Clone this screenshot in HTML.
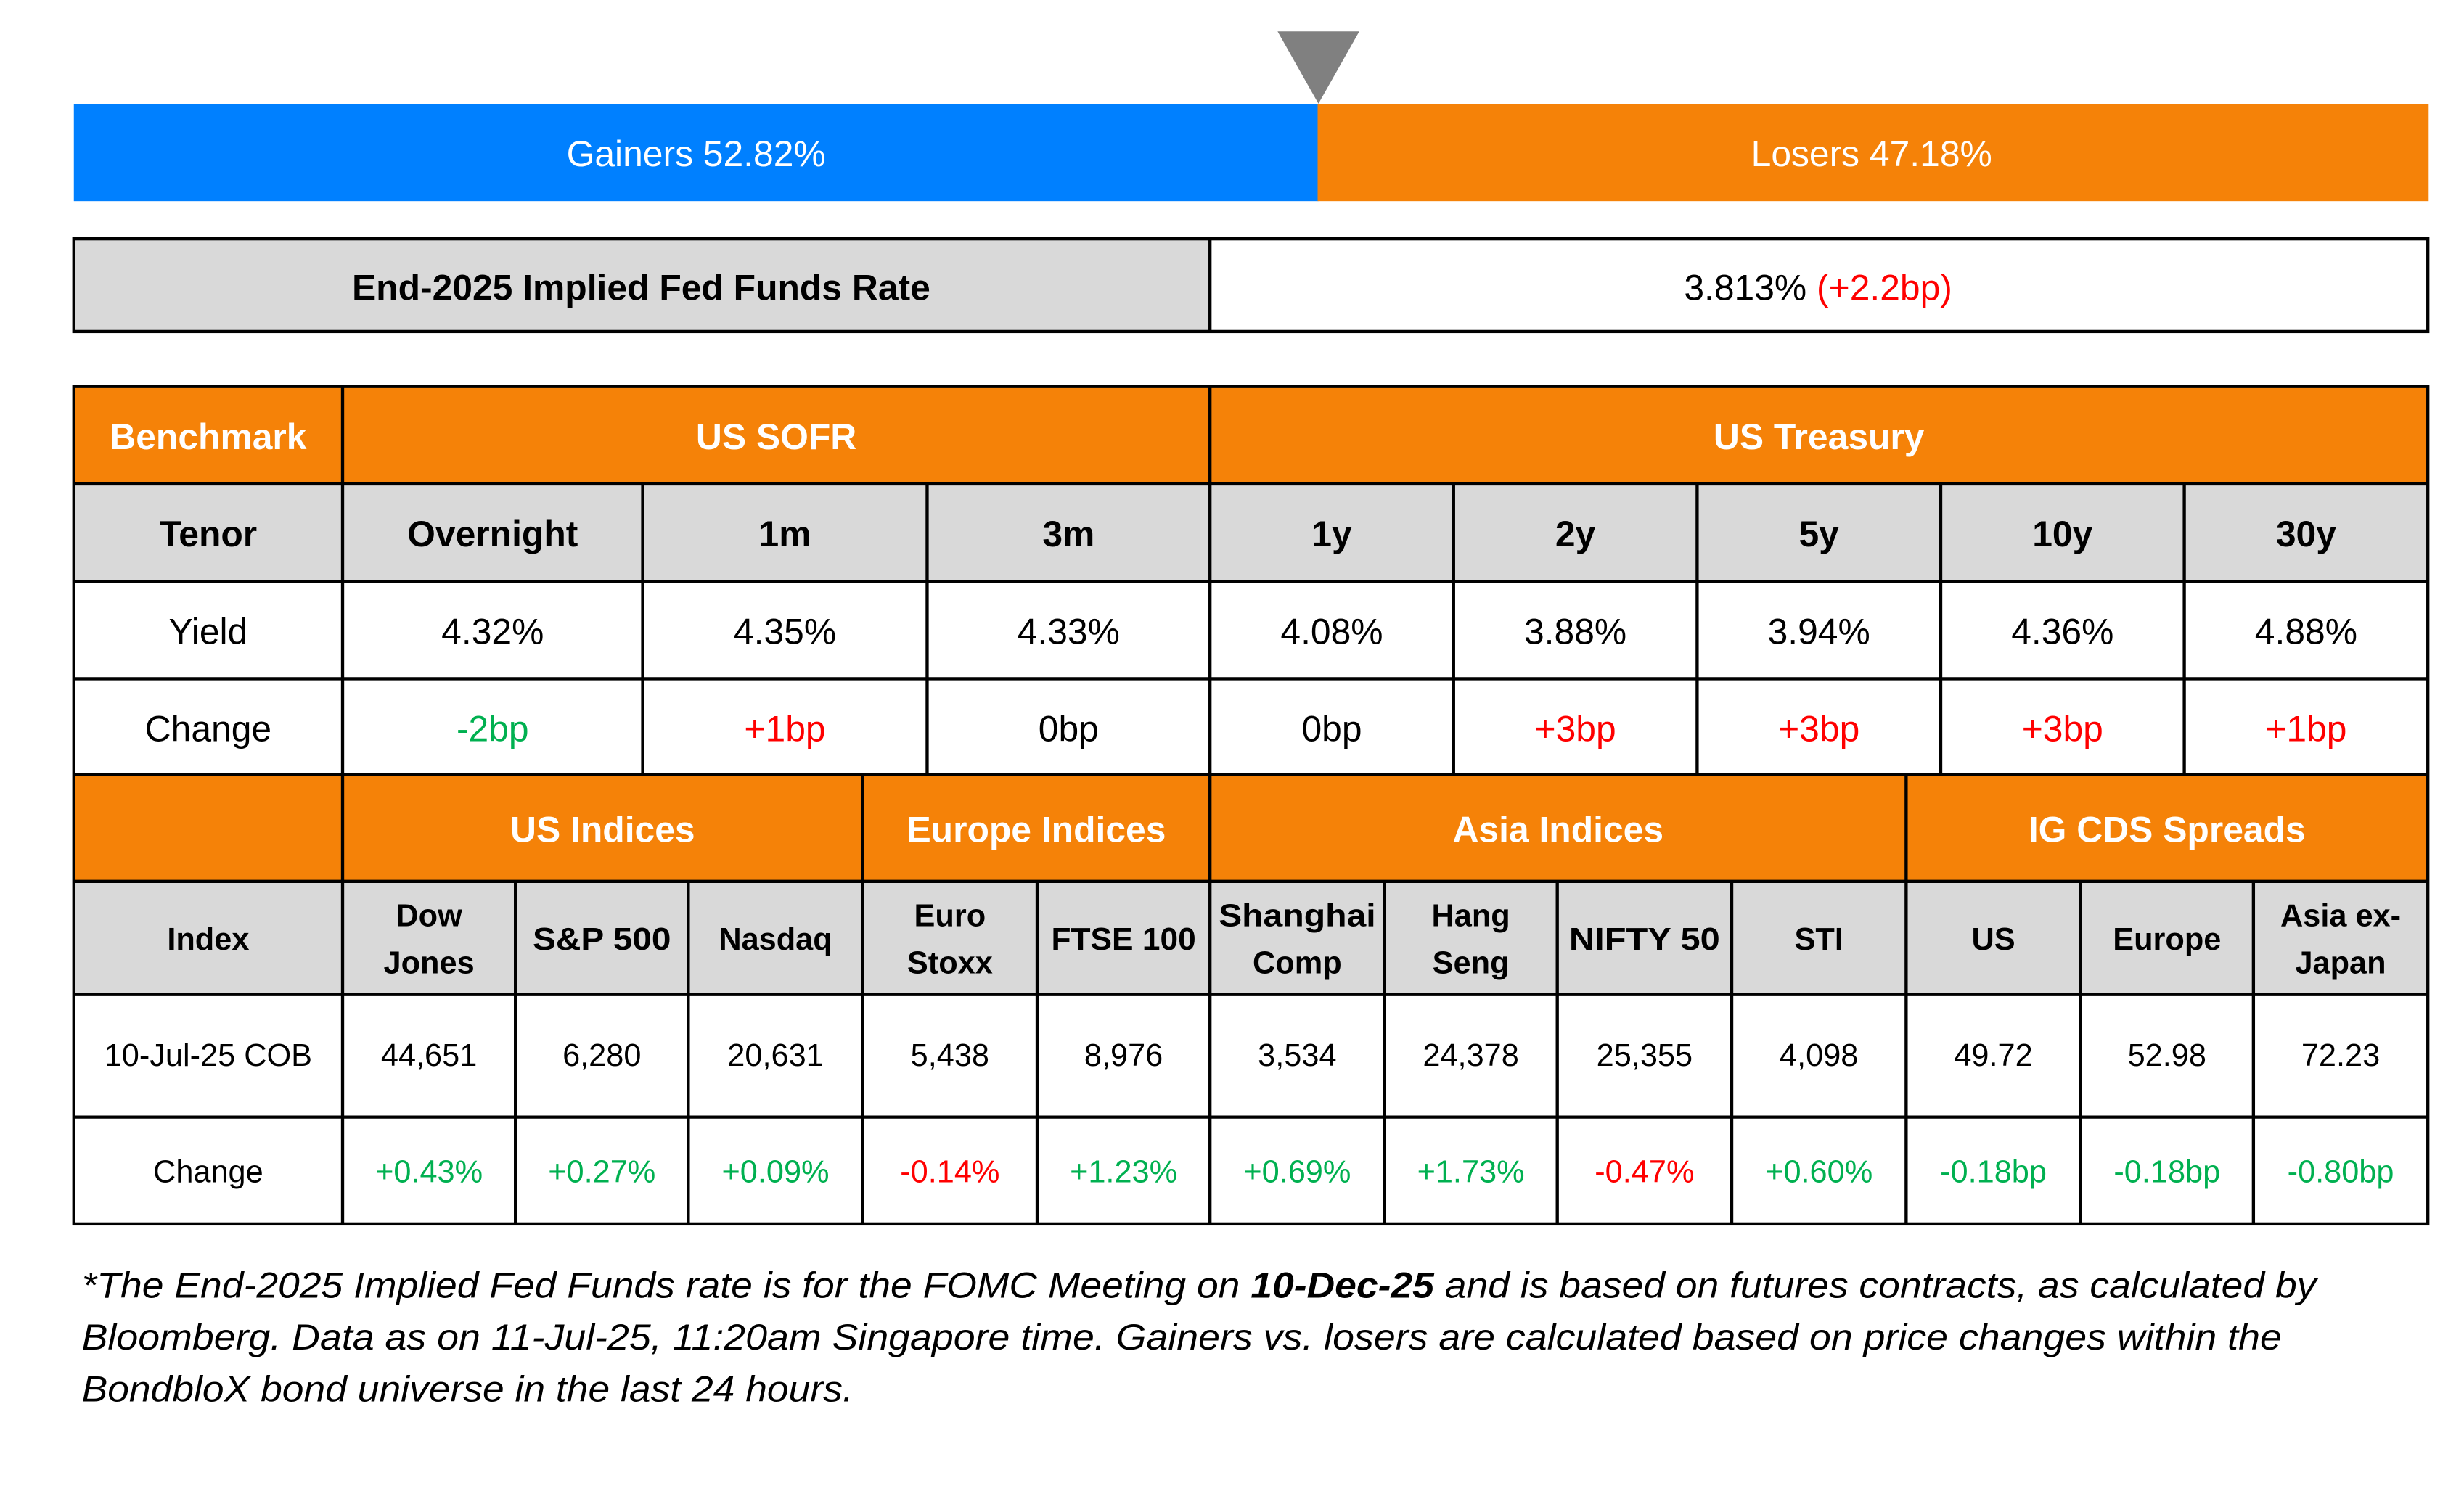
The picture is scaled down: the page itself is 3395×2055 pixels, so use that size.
<!DOCTYPE html>
<html><head><meta charset="utf-8"><style>
html,body{margin:0;padding:0;background:#fff;width:3395px;height:2055px;overflow:hidden}
svg{display:block}
text{font-family:"Liberation Sans",sans-serif;text-anchor:middle;dominant-baseline:central}
.h{font-weight:bold;font-size:23px;fill:#fff}
.b{font-weight:bold;font-size:23px;fill:#000}
.v{font-size:23px;fill:#000}
.h2{font-weight:bold;font-size:20px;fill:#000}
.v2{font-size:20px;fill:#000}
.g{fill:#00B050}.r{fill:#FF0000}
.f{font-style:italic;font-size:23px;text-anchor:start;dominant-baseline:auto;fill:#000}
</style></head><body>
<svg width="3395" height="2055" viewBox="0 0 1568 949" preserveAspectRatio="none">
<polygon points="813,20 865,20 839,66" fill="#808080"/>
<rect x="47" y="66.5" width="792" height="61.5" fill="#0080FF"/>
<rect x="838.5" y="66.5" width="707" height="61.5" fill="#F58208"/>
<text x="443" y="98" style="font-size:23px;fill:#fff">Gainers 52.82%</text>
<text x="1191" y="98" style="font-size:23px;fill:#fff">Losers 47.18%</text>

<rect x="47" y="152" width="723" height="59" fill="#D9D9D9"/>
<rect x="47" y="152" width="1498" height="59" fill="none" stroke="#000" stroke-width="2"/>
<line x1="770" y1="152" x2="770" y2="211" stroke="#000" stroke-width="2"/>
<text x="408" y="183" class="b">End-2025 Implied Fed Funds Rate</text>
<text x="1157" y="183" class="v">3.813% <tspan class="r">(+2.2bp)</tspan></text>

<rect x="47" y="246" width="1498" height="62" fill="#F58208"/>
<rect x="47" y="308" width="1498" height="62" fill="#D9D9D9"/>
<rect x="47" y="493" width="1498" height="68" fill="#F58208"/>
<rect x="47" y="561" width="1498" height="72" fill="#D9D9D9"/>
<g stroke="#000" stroke-width="2" fill="none">
<rect x="47" y="246" width="1498" height="533"/>
<line x1="47" y1="308" x2="1545" y2="308"/>
<line x1="47" y1="370" x2="1545" y2="370"/>
<line x1="47" y1="432" x2="1545" y2="432"/>
<line x1="47" y1="493" x2="1545" y2="493"/>
<line x1="47" y1="561" x2="1545" y2="561"/>
<line x1="47" y1="633" x2="1545" y2="633"/>
<line x1="47" y1="711" x2="1545" y2="711"/>
<line x1="218" y1="246" x2="218" y2="779"/>
<line x1="770" y1="246" x2="770" y2="493"/>
<line x1="409" y1="308" x2="409" y2="493"/>
<line x1="590" y1="308" x2="590" y2="493"/>
<line x1="925" y1="308" x2="925" y2="493"/>
<line x1="1080" y1="308" x2="1080" y2="493"/>
<line x1="1235" y1="308" x2="1235" y2="493"/>
<line x1="1390" y1="308" x2="1390" y2="493"/>
<line x1="549" y1="493" x2="549" y2="779"/>
<line x1="770" y1="493" x2="770" y2="779"/>
<line x1="1213" y1="493" x2="1213" y2="779"/>
<line x1="328" y1="561" x2="328" y2="779"/>
<line x1="438" y1="561" x2="438" y2="779"/>
<line x1="660" y1="561" x2="660" y2="779"/>
<line x1="881" y1="561" x2="881" y2="779"/>
<line x1="991" y1="561" x2="991" y2="779"/>
<line x1="1102" y1="561" x2="1102" y2="779"/>
<line x1="1324" y1="561" x2="1324" y2="779"/>
<line x1="1434" y1="561" x2="1434" y2="779"/>
</g>
<text x="132.5" y="278" class="h">Benchmark</text>
<text x="494" y="278" class="h">US SOFR</text>
<text x="1157.5" y="278" class="h">US Treasury</text>

<text x="132.5" y="340" class="b">Tenor</text>
<text x="313.5" y="340" class="b">Overnight</text>
<text x="499.5" y="340" class="b">1m</text>
<text x="680" y="340" class="b">3m</text>
<text x="847.5" y="340" class="b">1y</text>
<text x="1002.5" y="340" class="b">2y</text>
<text x="1157.5" y="340" class="b">5y</text>
<text x="1312.5" y="340" class="b">10y</text>
<text x="1467.5" y="340" class="b">30y</text>

<text x="132.5" y="402" class="v">Yield</text>
<text x="313.5" y="402" class="v">4.32%</text>
<text x="499.5" y="402" class="v">4.35%</text>
<text x="680" y="402" class="v">4.33%</text>
<text x="847.5" y="402" class="v">4.08%</text>
<text x="1002.5" y="402" class="v">3.88%</text>
<text x="1157.5" y="402" class="v">3.94%</text>
<text x="1312.5" y="402" class="v">4.36%</text>
<text x="1467.5" y="402" class="v">4.88%</text>

<text x="132.5" y="464" class="v">Change</text>
<text x="313.5" y="464" class="v g">-2bp</text>
<text x="499.5" y="464" class="v r">+1bp</text>
<text x="680" y="464" class="v">0bp</text>
<text x="847.5" y="464" class="v">0bp</text>
<text x="1002.5" y="464" class="v r">+3bp</text>
<text x="1157.5" y="464" class="v r">+3bp</text>
<text x="1312.5" y="464" class="v r">+3bp</text>
<text x="1467.5" y="464" class="v r">+1bp</text>

<text x="383.5" y="528" class="h">US Indices</text>
<text x="659.5" y="528" class="h">Europe Indices</text>
<text x="991.5" y="528" class="h">Asia Indices</text>
<text x="1379" y="528" class="h">IG CDS Spreads</text>

<text x="132.5" y="598" class="h2">Index</text>
<text x="273" y="583" class="h2">Dow</text><text x="273" y="613" class="h2">Jones</text>
<text x="383" y="598" class="h2" textLength="88" lengthAdjust="spacingAndGlyphs">S&amp;P 500</text>
<text x="493.5" y="598" class="h2">Nasdaq</text>
<text x="604.5" y="583" class="h2">Euro</text><text x="604.5" y="613" class="h2">Stoxx</text>
<text x="715" y="598" class="h2" textLength="92" lengthAdjust="spacingAndGlyphs">FTSE 100</text>
<text x="825.5" y="583" class="h2" textLength="100" lengthAdjust="spacingAndGlyphs">Shanghai</text><text x="825.5" y="613" class="h2">Comp</text>
<text x="936" y="583" class="h2">Hang</text><text x="936" y="613" class="h2">Seng</text>
<text x="1046.5" y="598" class="h2" textLength="96" lengthAdjust="spacingAndGlyphs">NIFTY 50</text>
<text x="1157.5" y="598" class="h2">STI</text>
<text x="1268.5" y="598" class="h2">US</text>
<text x="1379" y="598" class="h2">Europe</text>
<text x="1489.5" y="583" class="h2">Asia ex-</text><text x="1489.5" y="613" class="h2">Japan</text>

<text x="132.5" y="672" class="v2">10-Jul-25 COB</text>
<text x="273" y="672" class="v2">44,651</text>
<text x="383" y="672" class="v2">6,280</text>
<text x="493.5" y="672" class="v2">20,631</text>
<text x="604.5" y="672" class="v2">5,438</text>
<text x="715" y="672" class="v2">8,976</text>
<text x="825.5" y="672" class="v2">3,534</text>
<text x="936" y="672" class="v2">24,378</text>
<text x="1046.5" y="672" class="v2">25,355</text>
<text x="1157.5" y="672" class="v2">4,098</text>
<text x="1268.5" y="672" class="v2">49.72</text>
<text x="1379" y="672" class="v2">52.98</text>
<text x="1489.5" y="672" class="v2">72.23</text>

<text x="132.5" y="746" class="v2">Change</text>
<text x="273" y="746" class="v2 g">+0.43%</text>
<text x="383" y="746" class="v2 g">+0.27%</text>
<text x="493.5" y="746" class="v2 g">+0.09%</text>
<text x="604.5" y="746" class="v2 r">-0.14%</text>
<text x="715" y="746" class="v2 g">+1.23%</text>
<text x="825.5" y="746" class="v2 g">+0.69%</text>
<text x="936" y="746" class="v2 g">+1.73%</text>
<text x="1046.5" y="746" class="v2 r">-0.47%</text>
<text x="1157.5" y="746" class="v2 g">+0.60%</text>
<text x="1268.5" y="746" class="v2 g">-0.18bp</text>
<text x="1379" y="746" class="v2 g">-0.18bp</text>
<text x="1489.5" y="746" class="v2 g">-0.80bp</text>

<text x="52" y="826" class="f" textLength="1422" lengthAdjust="spacingAndGlyphs">*The End-2025 Implied Fed Funds rate is for the FOMC Meeting on <tspan font-weight="bold">10-Dec-25</tspan> and is based on futures contracts, as calculated by</text>
<text x="52" y="859" class="f" textLength="1400" lengthAdjust="spacingAndGlyphs">Bloomberg. Data as on 11-Jul-25, 11:20am Singapore time. Gainers vs. losers are calculated based on price changes within the</text>
<text x="52" y="892" class="f" textLength="491" lengthAdjust="spacingAndGlyphs">BondbloX bond universe in the last 24 hours.</text>
</svg>
</body></html>
